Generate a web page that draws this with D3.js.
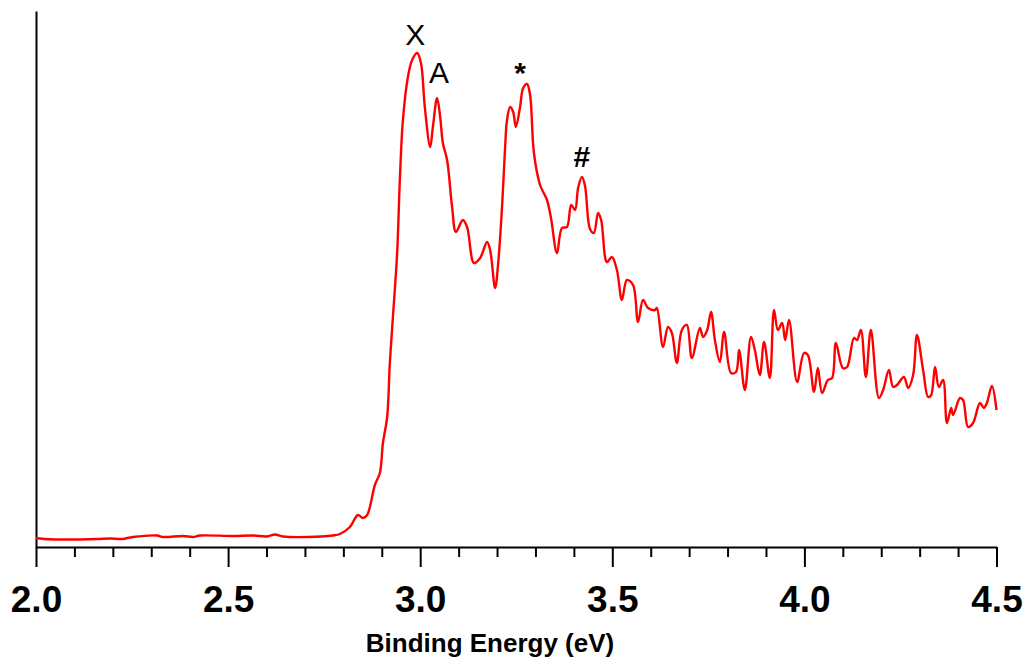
<!DOCTYPE html>
<html>
<head>
<meta charset="utf-8">
<script src="https://cdn.jsdelivr.net/npm/d3@7"></script>
<style>
  html, body { margin: 0; padding: 0; background: #fff; }
  svg { display: block; }
</style>
</head>
<body>
<svg id="chart" width="1026" height="661"></svg>
<script>
// Binding energy (eV)
const energy = [
  2.000, 2.036, 2.068, 2.159, 2.193, 2.224, 2.252, 2.315, 2.331, 2.383,
  2.409, 2.427, 2.513, 2.565, 2.601, 2.622, 2.643, 2.744, 2.773, 2.791,
  2.817, 2.838, 2.851, 2.862, 2.882, 2.895, 2.903, 2.914, 2.921, 2.929,
  2.940, 2.947, 2.955, 2.968, 2.979, 2.992, 3.002, 3.012, 3.026, 3.033,
  3.044, 3.052, 3.059, 3.070, 3.083, 3.093, 3.111, 3.122, 3.140, 3.156,
  3.174, 3.182, 3.195, 3.203, 3.213, 3.221, 3.226, 3.234, 3.242, 3.249,
  3.260, 3.268, 3.278, 3.286, 3.296, 3.312, 3.330, 3.340, 3.356, 3.369,
  3.382, 3.393, 3.403, 3.411, 3.421, 3.429, 3.442, 3.452, 3.463, 3.471,
  3.486, 3.499, 3.512, 3.525, 3.538, 3.554, 3.567, 3.580, 3.593, 3.611,
  3.616, 3.632, 3.645, 3.655, 3.668, 3.681, 3.694, 3.707, 3.728, 3.736,
  3.747, 3.757, 3.767, 3.780, 3.791, 3.809, 3.822, 3.830, 3.845, 3.861,
  3.871, 3.884, 3.895, 3.910, 3.921, 3.931, 3.942, 3.950, 3.960, 3.981,
  3.999, 4.009, 4.025, 4.035, 4.046, 4.061, 4.072, 4.082, 4.100, 4.111,
  4.129, 4.137, 4.147, 4.160, 4.173, 4.194, 4.205, 4.220, 4.231, 4.241,
  4.259, 4.270, 4.283, 4.293, 4.309, 4.322, 4.330, 4.340, 4.350, 4.361,
  4.371, 4.382, 4.387, 4.405, 4.413, 4.426, 4.439, 4.457, 4.467, 4.475,
  4.488, 4.500
];
// Photoelectron intensity (arbitrary units)
const intensity = [
  8.7, 7.7, 7.5, 8, 8.5, 8, 10, 11.5, 10, 11,
  10, 11.5, 11, 11.5, 10.5, 12.5, 10.5, 10.5, 11.5, 13,
  20, 32, 29, 32, 62, 74, 104, 130, 184, 230,
  294, 367, 427, 470, 487, 494, 484, 440, 400, 420,
  449, 430, 404, 387, 340, 315, 327, 320, 284, 289,
  305, 297, 259, 284, 340, 400, 427, 440, 435, 420,
  440, 459, 463, 452, 394, 362, 347, 330, 294, 319,
  320, 342, 337, 359, 370, 361, 318, 314, 334, 327,
  285, 290, 277, 247, 267, 262, 225, 247, 239, 237,
  239, 200, 220, 214, 184, 217, 222, 189, 219, 210,
  217, 235, 207, 185, 215, 174, 175, 197, 157, 210,
  197, 172, 205, 169, 237, 217, 224, 207, 227, 165,
  194, 192, 155, 179, 154, 167, 169, 204, 179, 180,
  209, 207, 217, 170, 217, 149, 157, 177, 160, 162,
  170, 159, 172, 212, 177, 150, 152, 180, 160, 167,
  124, 139, 132, 149, 147, 120, 124, 144, 139, 144,
  161, 137
];
// Axis ticks
const majorTicks = [2.0, 2.5, 3.0, 3.5, 4.0, 4.5];
const minorTicks = [2.1, 2.2, 2.3, 2.4, 2.6, 2.7, 2.8, 2.9, 3.1, 3.2, 3.3, 3.4,
                    3.6, 3.7, 3.8, 3.9, 4.1, 4.2, 4.3, 4.4];
const xTitle = "Binding Energy (eV)";
// Peak labels
const peakLabels = ["X", "A", "*", "#"];
const peakEnergy = [2.987, 3.049, 3.260, 3.421];
const peakLabelLevel = [502, 464, 464, 380];

const svg = d3.select("#chart");
const x = d3.scaleLinear().domain([2.0, 4.5]).range([36, 996.5]);
const y = d3.scaleLinear().domain([0, 536]).range([547, 11]);

// minor ticks
const minorAxis = d3.axisBottom(x).tickValues(minorTicks).tickSize(10).tickSizeOuter(0).tickFormat("");
const gMinor = svg.append("g").attr("transform", `translate(0,${y(0)})`).call(minorAxis);
gMinor.select(".domain").remove();
gMinor.selectAll(".tick line").attr("stroke", "#000").attr("stroke-width", 2);

// major ticks + axis line
const majorAxis = d3.axisBottom(x).tickValues(majorTicks).tickSize(20).tickSizeOuter(0).tickFormat(d3.format(".1f"));
const gX = svg.append("g").attr("transform", `translate(0,${y(0)})`).call(majorAxis);
gX.select(".domain").attr("stroke", "#000").attr("stroke-width", 2);
gX.selectAll(".tick line").attr("stroke", "#000").attr("stroke-width", 2);
gX.selectAll(".tick text")
  .attr("y", 65).attr("dy", null)
  .attr("fill", "#000")
  .style("font-family", "'Liberation Sans', Arial, sans-serif")
  .style("font-weight", "bold")
  .style("font-size", "37px");

// y axis line
const yAxis = d3.axisLeft(y).tickValues([]).tickSizeOuter(0);
const gY = svg.append("g").attr("transform", `translate(${x(2.0)},0)`).call(yAxis);
gY.select(".domain").attr("stroke", "#000").attr("stroke-width", 2);

// x title
svg.append("text")
  .attr("x", 490).attr("y", 652)
  .attr("text-anchor", "middle")
  .style("font-family", "'Liberation Sans', Arial, sans-serif")
  .style("font-weight", "bold")
  .style("font-size", "26px")
  .text(xTitle);

// spectrum line
const data = energy.map((e, i) => [e, intensity[i]]);
const line = d3.line().x(d => x(d[0])).y(d => y(d[1])).curve(d3.curveCatmullRom.alpha(0.5));
svg.append("path")
  .datum(data)
  .attr("d", line)
  .attr("fill", "none")
  .attr("stroke", "#ff0000")
  .attr("stroke-width", 2.4)
  .attr("stroke-linejoin", "round");

// peak labels
svg.selectAll("text.peak")
  .data(peakLabels)
  .enter().append("text")
  .attr("class", "peak")
  .attr("x", (d, i) => x(peakEnergy[i]))
  .attr("y", (d, i) => y(peakLabelLevel[i]))
  .attr("text-anchor", "middle")
  .style("font-family", "'Liberation Sans', Arial, sans-serif")
  .style("font-size", "30px")
  .style("font-weight", (d) => (d === "*" || d === "#") ? "bold" : "normal")
  .text(d => d);
</script>
</body>
</html>
